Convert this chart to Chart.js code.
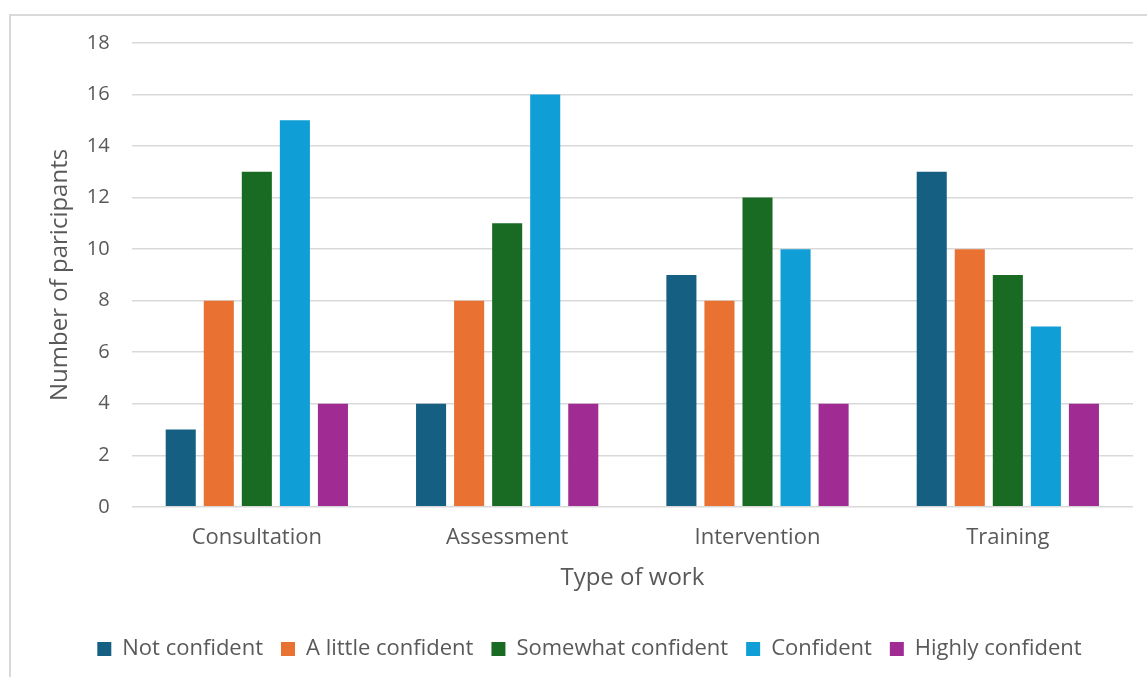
<!DOCTYPE html>
<html lang="en">
<head>
  <meta charset="UTF-8" />
  <title>Confidence by type of work</title>
  <script src="https://cdn.jsdelivr.net/npm/chart.js"></script>
  <style>
    html, body { margin: 0; padding: 0; background: #fff; }
    #wrap { position: relative; width: 1147px; height: 677px; overflow: hidden; }
    #frame {
      position: absolute; left: 9px; top: 14px; width: 1200px; height: 700px;
      border-left: 2px solid #d9d9d9; border-top: 2px solid #d9d9d9;
    }
    #chart { position: absolute; left: 0; top: 0; }
  </style>
</head>
<body>
  <div id="wrap">
    <div id="frame"></div>
    <canvas id="chart" width="1147" height="677"></canvas>
  </div>

  <script>
    const categories = ["Consultation", "Assessment", "Intervention", "Training"];
    const levels = ["Not confident", "A little confident", "Somewhat confident", "Confident", "Highly confident"];
    const notConfident = [3, 4, 9, 13];
    const littleConfident = [8, 8, 8, 10];
    const somewhatConfident = [13, 11, 12, 9];
    const confident = [15, 16, 10, 7];
    const highlyConfident = [4, 4, 4, 4];
    const yTicks = [0, 2, 4, 6, 8, 10, 12, 14, 16, 18];

    const colors = ["#156082", "#E97132", "#196B24", "#0F9ED5", "#A02B93"];
    const series = [notConfident, littleConfident, somewhatConfident, confident, highlyConfident];

    const textColor = "#595959";
    const fontFamily = "'Open Sans', sans-serif";

    new Chart(document.getElementById("chart"), {
      type: "bar",
      data: {
        labels: categories,
        datasets: series.map((vals, i) => ({
          label: levels[i],
          data: vals,
          backgroundColor: colors[i],
          categoryPercentage: 0.76,
          barPercentage: 0.79
        }))
      },
      options: {
        responsive: false,
        animation: false,
        layout: { padding: { top: 43, right: 14, bottom: 7, left: 46 } },
        scales: {
          x: {
            grid: { display: false },
            border: { display: false },
            ticks: { color: textColor, font: { family: fontFamily, size: 22 }, padding: 10 },
            title: {
              display: true, text: "Type of work", color: textColor,
              font: { family: fontFamily, size: 24 }, padding: { top: 3, bottom: 27 }
            }
          },
          y: {
            min: 0, max: 18,
            afterBuildTicks: axis => { axis.ticks = yTicks.map(v => ({ value: v })); },
            grid: { color: "#d9d9d9", lineWidth: 1.5, drawTicks: false },
            border: { display: false },
            ticks: { color: textColor, font: { family: fontFamily, size: 20 }, padding: 22 },
            title: {
              display: true, text: "Number of paricipants", color: textColor,
              font: { family: fontFamily, size: 24 }, padding: { top: 0, bottom: -10 }
            }
          }
        },
        plugins: {
          tooltip: { enabled: false },
          legend: {
            position: "bottom",
            labels: {
              color: textColor, boxWidth: 14, boxHeight: 14, padding: 18,
              font: { family: fontFamily, size: 22 }
            }
          }
        }
      }
    });
  </script>
</body>
</html>
